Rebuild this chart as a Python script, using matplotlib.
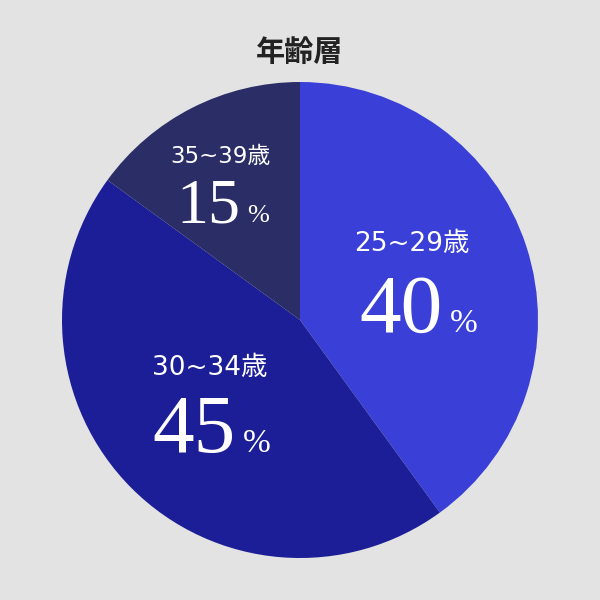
import matplotlib
matplotlib.use('Agg')
import matplotlib.pyplot as plt
from matplotlib import font_manager as fm

# data
ages = ['25~29歳', '30~34歳', '35~39歳']
shares = [40, 45, 15]
colors = ['#3a3fd8', '#1b1e96', '#2b2d66']

JP = ['Noto Sans CJK JP', 'DejaVu Sans']
LABEL = ['DejaVu Sans', 'Noto Sans CJK JP']

serif_path = None
for f in fm.fontManager.ttflist:
    if f.name == 'Liberation Serif' and f.style == 'normal' and f.weight in (400, 'normal'):
        serif_path = f.fname
        break


def serif(size):
    if serif_path:
        return fm.FontProperties(fname=serif_path, size=size)
    return fm.FontProperties(family='serif', size=size)


fig = plt.figure(figsize=(6, 6), dpi=100)
fig.patch.set_facecolor('#e3e3e3')

# pie centre at (300, 320) px, radius 238 px
ax = fig.add_axes([62 / 600, 42 / 600, 476 / 600, 476 / 600])
ax.pie(shares, colors=colors, startangle=90, counterclock=False,
       radius=1.0, wedgeprops=dict(linewidth=0))
ax.set_xlim(-1, 1)
ax.set_ylim(-1, 1)
ax.set_aspect('equal')
ax.axis('off')

label_pos = [(0.47, 0.32), (-0.378, -0.20), (-0.336, 0.685)]
num_pos = [(0.60, -0.05), (-0.27, -0.555), (-0.252, 0.41)]
num_size = [60, 60, 46]
pct_size = [24, 24, 19]
lab_size = [19, 19, 16.5]

for i in range(len(ages)):
    lx, ly = label_pos[i]
    ax.text(lx, ly, ages[i], ha='center', va='center', color='white',
            fontsize=lab_size[i], family=LABEL)
    nx, ny = num_pos[i]
    ax.text(nx, ny, str(shares[i]), ha='right', va='baseline', color='white',
            fontproperties=serif(num_size[i]))
    ax.text(nx + 0.03, ny, '%', ha='left', va='baseline', color='white',
            fontproperties=serif(pct_size[i]))

fig.text(0.5, 1 - 52 / 600, '年齢層', ha='center', va='center',
         fontsize=21, fontweight='bold', color='#222222', family=JP)

fig.savefig('out.png', dpi=100, facecolor=fig.get_facecolor())
